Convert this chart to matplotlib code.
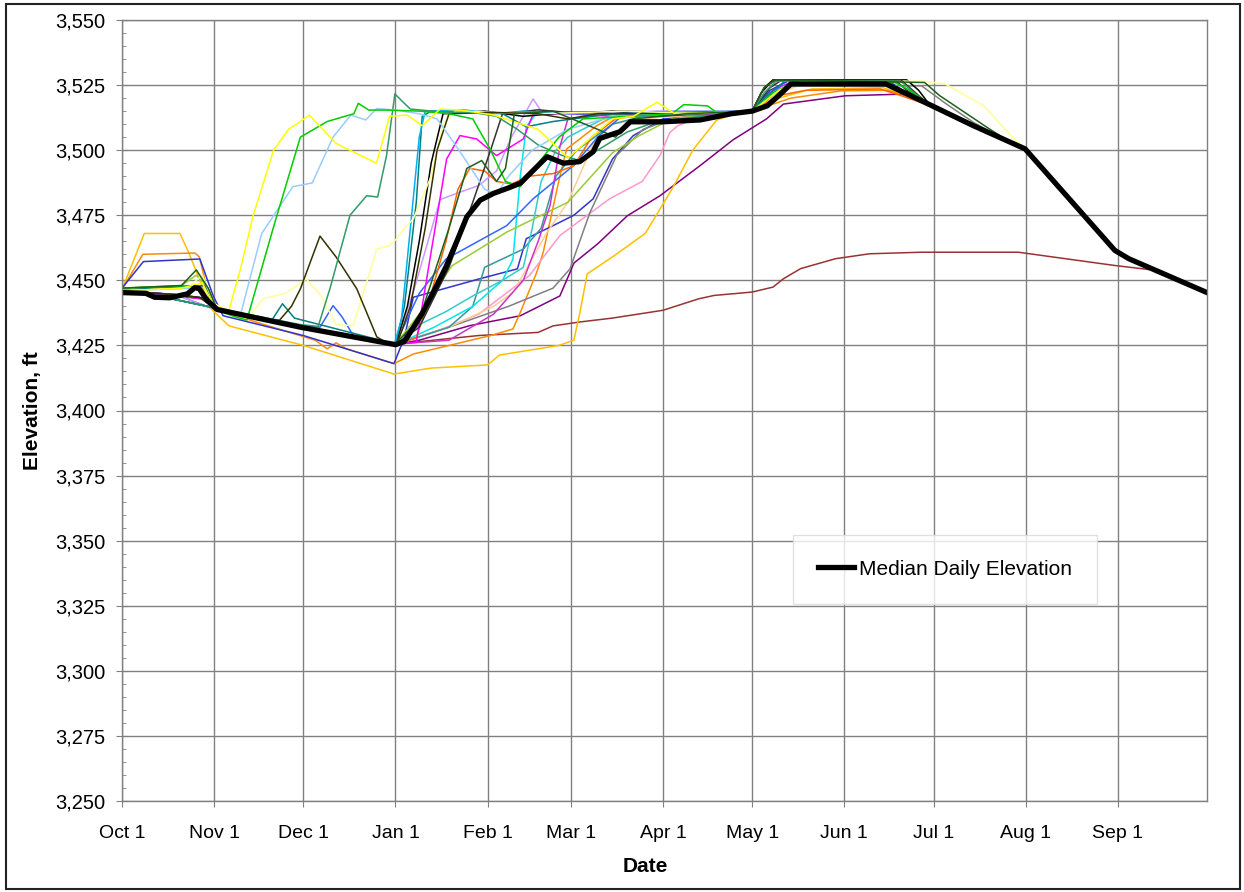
import matplotlib
matplotlib.use("Agg")
import matplotlib.pyplot as plt
from matplotlib.ticker import MultipleLocator, FuncFormatter
from matplotlib.patches import Rectangle

# Water year axis: day 0 = Oct 1
month_days = [0, 31, 61, 92, 123, 151, 182, 212, 243, 273, 304, 335]
month_labels = ["Oct 1", "Nov 1", "Dec 1", "Jan 1", "Feb 1", "Mar 1",
                "Apr 1", "May 1", "Jun 1", "Jul 1", "Aug 1", "Sep 1"]

# Median daily elevation (day, ft)
median = [(0, 3445.3), (8, 3445), (11, 3443.5), (16, 3443.3), (22, 3444.8), (24.5, 3447.2),
          (26, 3446.8), (28.5, 3442.5), (32, 3438.8), (60, 3432), (92, 3425.3), (95, 3426.5),
          (101, 3437.3), (105, 3446), (109, 3455.2), (113, 3466), (116, 3474.4), (120.5, 3480.8),
          (125, 3483.4), (130, 3485.5), (134, 3487.3), (138.5, 3492.4), (143, 3497.5),
          (148.5, 3495), (154, 3495.6), (158.5, 3499.4), (160.7, 3504.5), (167.5, 3507.1),
          (171, 3510.9), (182, 3510.9), (194.5, 3511.6), (205, 3514), (212, 3515), (217, 3517),
          (221, 3521), (225, 3525.4), (257, 3525.4), (263, 3522.2), (272.4, 3517.1),
          (286.4, 3509.4), (303.8, 3500.5), (334, 3461.5), (338.7, 3458.3), (365, 3445.3)]

# Individual years (day, ft)
gold = [(0, 3446.5), (7.5, 3468), (19.5, 3468), (22.5, 3460.5), (30, 3439), (36, 3432.5),
        (61, 3425), (91.5, 3414), (104, 3416.3), (123, 3417.5), (127, 3421.3), (147, 3425),
        (152, 3427), (154, 3437.4), (156.5, 3452.5), (165, 3459), (176, 3468), (180, 3475.5),
        (185.5, 3486), (192, 3500), (200, 3511.5), (206, 3514), (212, 3515), (221, 3520),
        (232, 3523.5), (256, 3524), (263, 3521.5), (272, 3517), (286, 3509.5), (304, 3500.5)]
orange = [(0, 3446.5), (7, 3460), (24.5, 3460.5), (26, 3459), (30, 3440), (45, 3434), (65, 3427),
          (69, 3423.7), (72, 3426), (75.5, 3423.7), (91.5, 3418), (98, 3421.7), (124, 3428.8),
          (131.5, 3431.3), (134, 3437.7), (139.5, 3453), (141.7, 3460.8), (147.3, 3490),
          (149.6, 3500.5), (154, 3504.3), (159.7, 3509.4), (165, 3512.7), (180, 3513),
          (200, 3513.5), (212, 3515), (225, 3520), (242, 3522.8), (257, 3523), (263, 3521.5),
          (272, 3517), (286, 3509.5), (304, 3500.5)]
indigo = [(0, 3447), (7.2, 3457.2), (26.2, 3458.2), (30.7, 3444), (34, 3436.4), (61, 3428.8),
          (91.5, 3418), (95, 3428), (98, 3443.5), (120, 3450.5), (133, 3454.4), (136, 3466),
          (145, 3471), (152, 3475), (158.5, 3481.3), (165, 3496.6), (172, 3505.6), (182, 3512),
          (195, 3513), (212, 3515), (218, 3523), (224, 3526.5), (258, 3526.5), (264, 3522),
          (272, 3517), (286, 3509.5), (304, 3500.5)]
yellow = [(0, 3446), (20, 3447), (27, 3449), (31, 3440), (36, 3438.6), (40, 3455), (44, 3474.4),
          (51, 3500), (56, 3508), (60, 3511), (63, 3513.5), (72, 3502.6), (85.6, 3495), (90, 3513),
          (96, 3513.5), (101, 3509.4), (107, 3515.8), (114, 3515.4), (125, 3513.5), (140, 3508),
          (150, 3497), (156, 3503), (165, 3512), (172, 3513), (180, 3518.4), (186, 3514),
          (200, 3514.5), (212, 3515), (221, 3523), (228, 3526), (257, 3526), (263, 3522),
          (272, 3517), (286, 3509.5), (304, 3500.5)]
green = [(0, 3447), (25, 3448), (31, 3439), (38, 3436), (42, 3434.7), (51, 3470.6), (60, 3505),
         (69, 3511), (78, 3514), (79.5, 3518), (83, 3515.4), (89, 3515.4), (100, 3515),
         (110, 3514), (118, 3512), (124, 3500), (129, 3488), (134, 3486), (140, 3495),
         (147, 3505), (155, 3512), (170, 3513), (185, 3514), (189, 3517.5), (197, 3517),
         (200, 3514.5), (212, 3515), (219, 3522), (226, 3526), (260, 3526), (265, 3523),
         (272, 3517), (286, 3509.5), (304, 3500.5)]
lightblue = [(0, 3446), (25, 3447), (31, 3439), (40, 3437.4), (47, 3468), (57.5, 3486),
             (64, 3487.4), (71, 3505), (77, 3513.5), (82, 3511.6), (85.7, 3516), (92, 3515.4),
             (100, 3514), (106, 3512), (112.6, 3501.3), (118, 3492), (122, 3485), (126, 3483),
             (130, 3490), (138, 3500), (150, 3508), (165, 3513), (190, 3514), (212, 3515),
             (221, 3523), (228, 3525.5), (257, 3525.5), (263, 3522), (272, 3517), (286, 3509.5),
             (304, 3500.5)]
teal_dark = [(0, 3445.5), (8, 3445), (30, 3439.7), (60, 3433), (66, 3432.3), (70, 3447),
             (76.7, 3475), (82.3, 3482.5), (86, 3482), (89, 3498), (91.8, 3521.6), (94.6, 3518.4),
             (97, 3515.8), (108, 3514.6), (118, 3514.5), (126, 3513), (133, 3508), (140, 3502),
             (148, 3498), (154, 3496), (160, 3500), (170, 3507), (180, 3511), (195, 3513),
             (212, 3515), (216, 3522), (220, 3526.5), (262, 3526.5), (266, 3522.5), (272, 3517),
             (286, 3509.5), (304, 3500.5)]
olive_dark = [(0, 3446), (18, 3444.5), (26, 3443.5), (32, 3438.5), (50, 3435), (53, 3434.7),
              (57, 3440), (60, 3446.7), (66.6, 3467), (72, 3459), (79, 3446.7), (85.7, 3428.3),
              (89, 3426), (92.5, 3425.5), (97, 3440), (102, 3470), (106, 3500), (110, 3514),
              (125, 3514.5), (140, 3514), (150, 3512), (160, 3514), (175, 3514), (195, 3514),
              (212, 3515), (216, 3524), (219, 3527), (262, 3527), (266, 3523), (272, 3517),
              (286, 3509.5), (304, 3500.5)]
pale_yellow = [(0, 3446), (22, 3447), (27, 3452), (31, 3441), (42, 3435), (47.5, 3443),
               (55, 3445), (62, 3450.5), (67, 3444), (72, 3433), (77.8, 3432.6), (85.7, 3462),
               (90, 3463.3), (92.4, 3466), (95, 3470), (98, 3473.6), (104, 3490), (108, 3510),
               (112, 3515), (140, 3514), (170, 3515), (195, 3514), (212, 3515), (222, 3524),
               (228, 3526.5), (270, 3526.5), (277, 3525.4), (290, 3517), (299, 3505.6),
               (304, 3500.5)]
royal_blue = [(0, 3446), (18, 3444.5), (29, 3443), (32, 3438.5), (60, 3432.4), (66.6, 3432),
              (71, 3440.3), (74, 3436), (77.8, 3428.8), (92, 3425.5), (100, 3445), (109, 3458.2),
              (129.4, 3471), (138.3, 3481.3), (151.8, 3494), (160, 3505), (168, 3513),
              (190, 3514), (212, 3515), (219, 3523), (225, 3526), (257, 3526), (263, 3522),
              (272, 3517), (286, 3509.5), (304, 3500.5)]
cyan = [(0, 3445.5), (8, 3445), (30, 3439.7), (60, 3432), (91.5, 3425), (94, 3435), (97, 3470),
        (100, 3505), (102, 3515), (115, 3515.5), (125, 3514), (135, 3515), (150, 3514),
        (170, 3514), (195, 3514), (212, 3515), (220, 3523), (226, 3526), (257, 3526),
        (263, 3522), (272, 3517), (286, 3509.5), (304, 3500.5)]
teal = [(0, 3446), (10, 3447), (28, 3448), (31, 3439), (50, 3434), (54, 3441), (58, 3435.5),
        (92, 3425.5), (95, 3440), (99, 3480), (101, 3513), (104, 3515), (115, 3515), (128, 3514),
        (136, 3509), (145, 3511), (165, 3514), (212, 3515), (217, 3521), (223, 3526.5),
        (257, 3526.5), (263, 3522), (272, 3517), (286, 3509.5), (304, 3500.5)]
black_thin = [(0, 3445.5), (8, 3445), (30, 3439.7), (60, 3432), (92, 3425.2), (96, 3440),
              (100, 3465), (104, 3495), (108, 3514), (122, 3515), (135, 3513), (150, 3514.5),
              (170, 3515), (195, 3514), (212, 3515), (215, 3522), (219, 3527), (264, 3527),
              (268, 3523), (272, 3517), (286, 3509.5), (304, 3500.5)]
dark_gray = [(0, 3446), (18, 3444.5), (29, 3443), (32, 3438.5), (60, 3432.2), (92, 3425.4),
             (100, 3432), (110, 3455), (118, 3480), (124, 3500), (128, 3514), (140, 3515.5),
             (155, 3514), (165, 3515), (180, 3513), (212, 3515), (218, 3524), (222, 3527),
             (260, 3527), (264, 3523), (272, 3517), (286, 3509.5), (304, 3500.5)]
dark_green = [(0, 3447), (20, 3448), (25, 3454), (29, 3447), (32, 3438.8), (60, 3432.4),
              (92, 3425.6), (100, 3435), (110, 3470), (116, 3493), (121, 3496), (126, 3488),
              (129, 3493), (132, 3514), (145, 3515), (160, 3508), (166, 3505), (172, 3512),
              (190, 3514), (212, 3515), (216, 3524), (220, 3527), (270, 3526), (275, 3521),
              (292, 3508), (299, 3503), (304, 3500.5)]
magenta = [(0, 3446), (18, 3444.5), (26, 3443), (29, 3443), (32, 3438.5), (60, 3432.2),
           (92, 3425.4), (99, 3426.2), (103.6, 3458.2), (109.2, 3496.6), (113.7, 3505.6),
           (119.3, 3504.3), (126, 3497.9), (135, 3504.3), (138.3, 3513.9), (150, 3514),
           (165, 3513), (180, 3514.5), (195, 3513.5), (212, 3515), (219, 3523), (225, 3526),
           (257, 3526), (263, 3522), (272, 3517), (286, 3509.5), (304, 3500.5)]
magenta2 = [(0, 3446), (10, 3447), (28, 3448), (31, 3439), (60, 3432.3), (92, 3425.5),
            (110, 3427), (125, 3437), (135, 3450), (140, 3465), (144, 3478.7), (147.3, 3501.3),
            (150, 3512), (165, 3514), (180, 3514), (212, 3515), (220, 3522), (227, 3525.5),
            (257, 3525.5), (263, 3522), (272, 3517), (286, 3509.5), (304, 3500.5)]
orange2 = [(0, 3446), (10, 3447), (28, 3448), (31, 3439), (60, 3432.3), (92, 3425.5), (99, 3428),
           (104, 3445), (109, 3465), (113, 3485), (117, 3493), (122, 3492), (126, 3488),
           (131, 3487), (137, 3490), (145, 3491), (152, 3494), (158, 3505), (166, 3512),
           (175, 3513.5), (190, 3514), (212, 3515), (221, 3521), (230, 3523), (255, 3523.5),
           (262, 3521), (272, 3517), (286, 3509.5), (304, 3500.5)]
lavender = [(0, 3446), (18, 3444.5), (32, 3438.5), (60, 3432.2), (92, 3425.4), (98, 3445.5),
            (107, 3481), (114, 3484), (120, 3486.4), (126, 3492), (131, 3505), (136, 3515),
            (138.3, 3519.7), (141, 3515), (160, 3514), (180, 3515), (212, 3515), (220, 3522),
            (226, 3525.5), (257, 3525.5), (263, 3522), (272, 3517), (286, 3509.5), (304, 3500.5)]
olive_green = [(0, 3447), (20, 3448), (25, 3452), (29, 3447), (32, 3438.8), (60, 3432.4),
               (92, 3425.5), (100, 3437), (111, 3455.6), (129.4, 3468.5), (150, 3480),
               (165, 3499), (174, 3505.6), (185, 3512), (200, 3514), (212, 3515), (220, 3522),
               (226, 3525), (257, 3525), (263, 3522), (272, 3517), (286, 3509.5), (304, 3500.5)]
cyan2 = [(0, 3445.5), (8, 3445), (30, 3439.7), (60, 3432), (92, 3425), (100, 3433), (109, 3438),
         (118, 3444), (128, 3450), (135, 3455), (138, 3470), (141, 3488), (146, 3500),
         (150, 3505), (155, 3508), (162, 3512), (180, 3514), (212, 3515), (221, 3523),
         (227, 3526), (257, 3526), (263, 3522), (272, 3517), (286, 3509.5), (304, 3500.5)]
aqua = [(0, 3446), (10, 3447), (28, 3448), (31, 3439), (60, 3432.3), (92, 3425.3), (105, 3432),
        (118, 3440), (128, 3450), (131.5, 3458), (134, 3490), (136, 3509), (140, 3515),
        (160, 3514), (185, 3515), (212, 3515), (219, 3523), (225, 3526), (257, 3526),
        (263, 3522), (272, 3517), (286, 3509.5), (304, 3500.5)]
teal3 = [(0, 3446), (18, 3444.5), (32, 3438.5), (60, 3432.2), (92, 3425.4), (110, 3432),
         (118, 3440), (122, 3455), (135, 3462), (141, 3470), (146, 3490), (153, 3500),
         (165, 3510), (175, 3513), (195, 3514), (212, 3515), (220, 3523), (226, 3526),
         (257, 3526), (263, 3522), (272, 3517), (286, 3509.5), (304, 3500.5)]
salmon = [(0, 3446), (10, 3447), (28, 3448), (31, 3439), (60, 3432.3), (92, 3425.5), (110, 3432),
          (125, 3440), (131.6, 3445.4), (143, 3468.5), (150, 3480), (158.5, 3502.4),
          (165, 3510), (175, 3512), (195, 3514), (212, 3515), (221, 3522), (228, 3525),
          (257, 3525), (263, 3522), (272, 3517), (286, 3509.5), (304, 3500.5)]
pink = [(0, 3446), (18, 3444.5), (32, 3438.5), (60, 3432.2), (92, 3425.4), (105, 3430),
        (120, 3437), (137, 3451.8), (147.3, 3467.2), (164, 3481.3), (175, 3488), (181, 3498),
        (184.3, 3506.8), (187, 3509.4), (195, 3513), (212, 3515), (221, 3523), (227, 3525.5),
        (257, 3525.5), (263, 3522), (272, 3517), (286, 3509.5), (304, 3500.5)]
gray = [(0, 3446), (10, 3447), (28, 3448), (31, 3439), (60, 3432.3), (92, 3425.5), (110, 3432),
        (130, 3440), (145, 3447), (150.7, 3454.4), (157.4, 3476), (166.4, 3498), (175.3, 3508),
        (185, 3512), (200, 3514), (212, 3515), (218, 3522), (224, 3525), (269, 3524.7),
        (277, 3518), (286.4, 3510.7), (294.5, 3505.6), (304, 3500.5)]
purple = [(0, 3446), (18, 3444), (26, 3443), (30, 3443.5), (32, 3438.5), (60, 3432.2),
          (92, 3425.4), (100, 3427), (117, 3432.6), (134, 3436.4), (147.3, 3444), (150.7, 3453),
          (152, 3456.6), (160, 3464), (170, 3474.8), (181, 3482.5), (194.4, 3494),
          (205.6, 3504), (216.8, 3512), (222.5, 3517.7), (243.4, 3520.9), (262, 3521.5),
          (267, 3520), (272, 3517), (286, 3509.5), (304, 3500.5)]
brown = [(0, 3445.5), (8, 3445), (30, 3439.7), (60, 3432), (92, 3425.5), (120, 3428.8),
         (140, 3430), (145, 3432.5), (154, 3434), (165, 3435.5), (182, 3438.5), (194, 3442.9),
         (199.2, 3444.2), (212, 3445.5), (219, 3447.4), (222.5, 3450.6), (228.3, 3454.5),
         (240, 3458.3), (251.5, 3460.2), (269, 3460.8), (301.5, 3460.8), (334, 3455.7),
         (348, 3453.8)]

years = [(brown, "#993333"), (purple, "#800080"), (gold, "#FFC000"), (orange, "#FF8C00"),
         (indigo, "#3333CC"), (pink, "#FF99CC"), (gray, "#808080"), (salmon, "#FFCC99"),
         (teal3, "#339999"), (aqua, "#00E5EE"), (cyan2, "#33CCCC"), (olive_green, "#99CC33"),
         (royal_blue, "#3366FF"), (lavender, "#CC99FF"), (orange2, "#FF6600"),
         (magenta2, "#CC33CC"), (magenta, "#FF00FF"), (dark_gray, "#333333"),
         (black_thin, "#000000"), (teal, "#008080"), (cyan, "#00B0F0"),
         (pale_yellow, "#FFFF99"), (olive_dark, "#333300"), (teal_dark, "#339966"),
         (lightblue, "#99CCFF"), (green, "#00CC00"), (yellow, "#FFFF00"),
         (dark_green, "#1E5E1E")]

plt.rcParams["font.family"] = ["Liberation Sans", "DejaVu Sans"]

fig = plt.figure(figsize=(12.44, 8.92), dpi=100)
ax = fig.add_axes([122 / 1244, 91 / 892, 1085 / 1244, 781 / 892])

for pts, col in years:
    ax.plot([p[0] for p in pts], [p[1] for p in pts], color=col, lw=1.1,
            solid_joinstyle="round")

ax.plot([p[0] for p in median], [p[1] for p in median], color="black", lw=3.8,
        solid_joinstyle="round", label="Median Daily Elevation")

ax.set_xlim(0, 365)
ax.set_ylim(3250, 3550)
ax.set_xticks(month_days)
ax.set_xticklabels(month_labels)
ax.yaxis.set_major_locator(MultipleLocator(25))
ax.yaxis.set_minor_locator(MultipleLocator(5))
ax.yaxis.set_major_formatter(FuncFormatter(lambda v, p: f"{v:,.0f}"))

ax.set_axisbelow(True)
ax.grid(True, which="major", color="#808080", lw=1)
for s in ax.spines.values():
    s.set_color("#808080")
    s.set_linewidth(1)

ax.tick_params(axis="x", direction="out", length=4, pad=13, labelsize=14, color="#808080")
ax.tick_params(axis="y", which="major", direction="inout", length=8, pad=8, labelsize=14.5,
               color="#808080")
ax.tick_params(axis="y", which="minor", direction="in", length=3, color="#808080")

ax.set_xlabel("Date", fontsize=15, fontweight="bold")
ax.set_ylabel("Elevation, ft", fontsize=15, fontweight="bold")
ax.xaxis.set_label_coords(0.4826, -0.0717)
ax.yaxis.set_label_coords(-0.0737, 0.5)

leg = ax.legend(loc="center", bbox_to_anchor=(0.7585, 0.297), fontsize=15, frameon=True,
                fancybox=False, borderpad=1.2, handlelength=1.7, handletextpad=0.25)
leg.get_frame().set_edgecolor("#D9D9D9")
leg.get_frame().set_linewidth(1)

fig.add_artist(Rectangle((6 / 1244, 3 / 892), 1234 / 1244, 885 / 892, transform=fig.transFigure,
                         fill=False, ec="#222222", lw=1.5))

fig.savefig("out.png", dpi=100)
